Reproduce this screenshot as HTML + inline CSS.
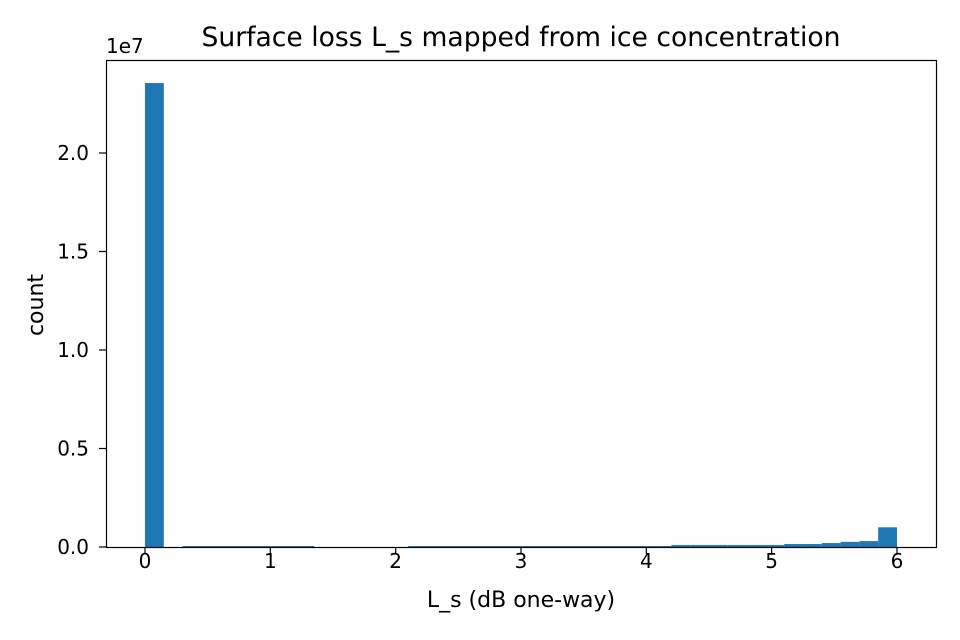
<!DOCTYPE html>
<html><head><meta charset="utf-8"><style>body{margin:0;background:#fff}svg{display:block;font-family:"DejaVu Sans","Liberation Sans",sans-serif}</style></head>
<body>
<svg id="c" width="960" height="640"></svg>
<script>
const binEdgesStart = 0, binWidth = 0.15;
const counts = [23550000,0,50000,50000,50000,50000,50000,50000,50000,0,0,0,0,0,
50000,50000,50000,50000,50000,50000,50000,50000,50000,50000,50000,50000,50000,50000,
100000,100000,100000,100000,100000,100000,150000,150000,200000,260000,300000,1000000];
const xTicks = [0,1,2,3,4,5,6];
const yTicks = [0,0.5e7,1.0e7,1.5e7,2.0e7];
const yTickLabels = ["0.0","0.5","1.0","1.5","2.0"];
const L=106,R=936,T=60,B=547;
const x=v=>145+v*125.33;
const y=v=>B-v*197e-7;
const s=document.getElementById('c');const NS='http://www.w3.org/2000/svg';
function mk(t,a,txt){const e=document.createElementNS(NS,t);for(const k in a)e.setAttribute(k,a[k]);if(txt!=null)e.textContent=txt;s.appendChild(e);return e;}
counts.forEach((c,i)=>{if(!c)return;const x0=x(binEdgesStart+i*binWidth),x1=x(binEdgesStart+(i+1)*binWidth);
const r=mk('rect',{x:x0,y:y(c),width:x1-x0,height:B-y(c),fill:'#1f77b4'});

});
const fr=mk('rect',{x:L+0.5,y:T+0.5,width:R-L,height:B-T,fill:'none',stroke:'#000','stroke-width':1.2});

xTicks.forEach(v=>{mk('line',{x1:x(v),x2:x(v),y1:B,y2:B+7,stroke:'#000','stroke-width':1.2});
const t=mk('text',{x:x(v),y:B+21,'text-anchor':'middle','font-size':20},String(v));
});
yTicks.forEach((v,i)=>{mk('line',{x1:L-7,x2:L,y1:y(v),y2:y(v),stroke:'#000','stroke-width':1.2});
const t=mk('text',{x:L-17,y:y(v)+7,'text-anchor':'end','font-size':20},yTickLabels[i]);
});
</script>
<svg style="position:absolute;left:0;top:0" width="960" height="640">
<text x="106" y="53" font-size="20">1e7</text>
<text x="521" y="46" font-size="26.6" text-anchor="middle">Surface loss L_s mapped from ice concentration</text>
<text x="521" y="607" font-size="22" text-anchor="middle">L_s (dB one-way)</text>
<text x="43" y="305" font-size="22" text-anchor="middle" transform="rotate(-90 43 305)">count</text>
</svg>
</body></html>
